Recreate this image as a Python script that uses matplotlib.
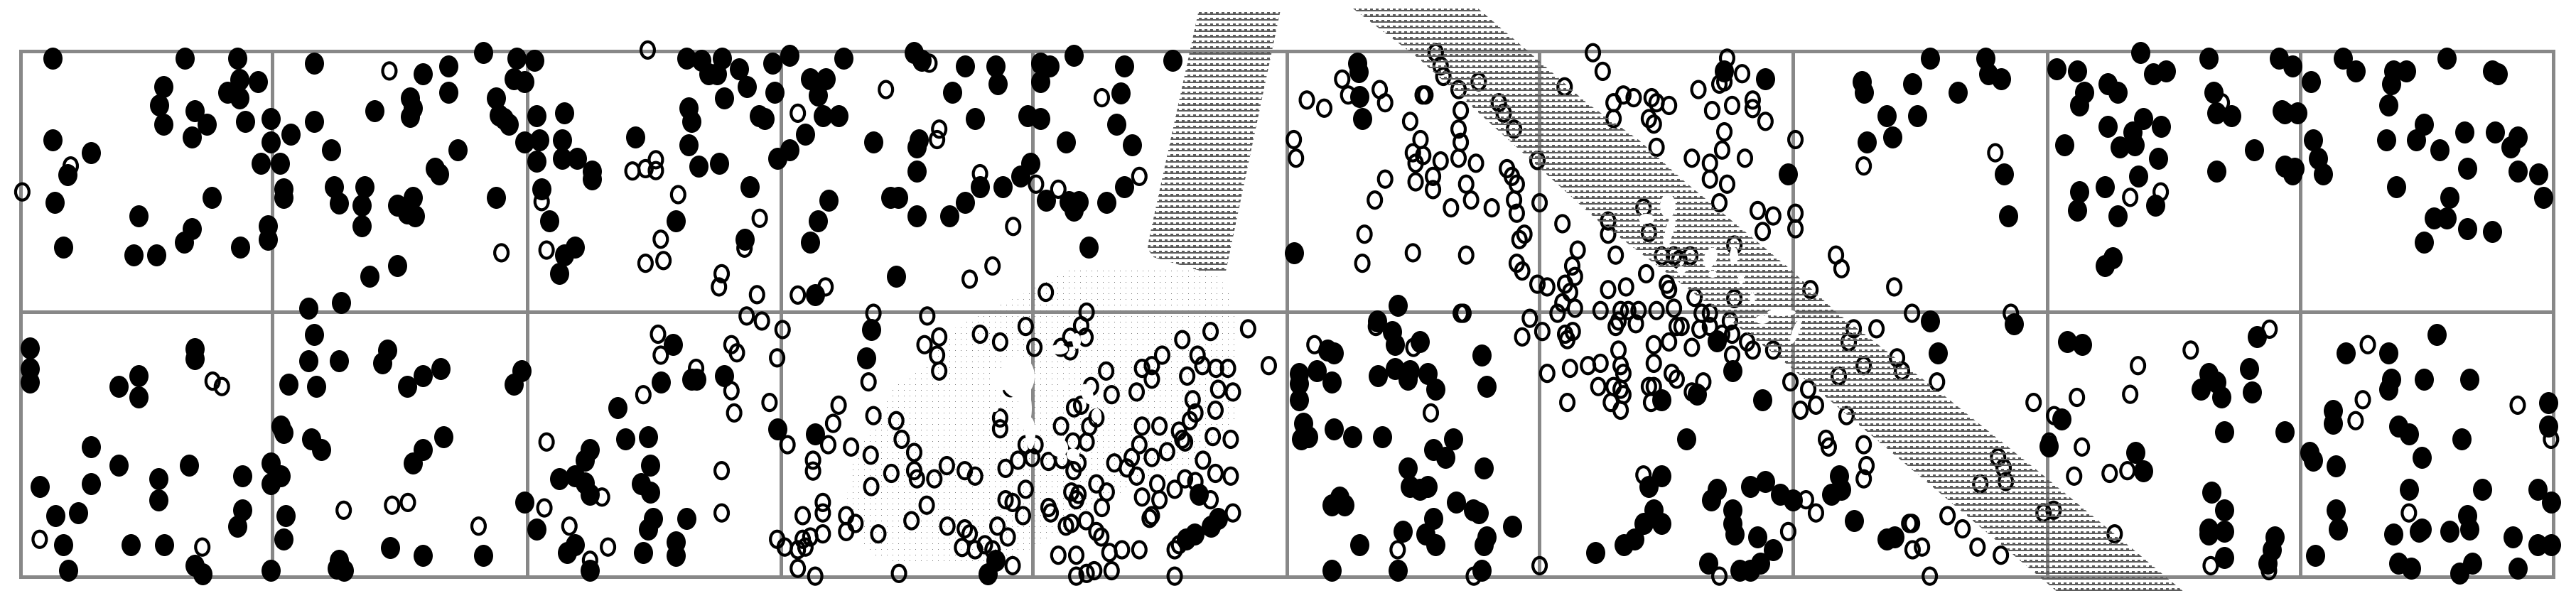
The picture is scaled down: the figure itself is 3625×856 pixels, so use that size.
import numpy as np
import matplotlib
matplotlib.use('Agg')
import matplotlib.pyplot as plt
from matplotlib.path import Path
from matplotlib.patches import Polygon, Ellipse
from matplotlib.markers import MarkerStyle
from matplotlib.transforms import Affine2D

plt.rcParams['lines.scale_dashes'] = False

GRID_X = [29, 383, 741.5, 1099, 1453, 1811, 2166, 2523, 2881, 3237, 3593]
GRID_Y = [71.5, 439, 812]

# Readings: left section
filled_a = [(97,150),(340,150),(437,150),(577,163),(889,136),(950,150),(983,156),(441,205),(474,210),(418,238),(441,252),(301,224),(293,272),(358,286),(380,320),(301,320),(353,353),(451,313),(498,306),(535,346),(577,313),(498,367),(97,360),(167,394),(124,450),(480,421),(515,421),(101,522),(116,638),(255,557),(390,509),(353,590),(339,624),(246,658),(288,658),(442,638),(493,583),(493,617),(521,488),(521,509),(609,387),(614,482),(623,524),(670,482),(665,530),(665,583),(759,509),(731,530),(749,550),(763,557),(800,435),(808,448),(842,387),(912,509),(777,190),(824,170),(824,238),(754,252),(759,279),(754,300),(688,286),(945,204),(964,211),(912,252),(917,297),(926,306),(936,320),(964,367),(992,360),(987,415),(987,299),(1038,292),(1033,360),(1033,408),(1061,408),(1089,442),(1089,462),(996,488),(1010,570),(1057,638),(1038,658),(1028,706),(679,713),(731,685),(627,781),(567,795),(1168,353),(1262,150),(1290,156),(1327,150),(1303,190),(1318,190),(1359,177),(1373,224),(1420,163),(1452,143),(1551,150),(1424,238),(1331,252),(1266,279),(1271,313),(1266,374),(1285,428),(1322,421),(1396,299),(1406,306),(1490,204),(1518,204),(1504,245),(1513,299),(1542,299),(1480,346),(1452,387),(1429,408),(1378,482),(1523,516),(1504,570),(1490,624),(1369,617),(1243,570),(1499,761),
(55,897),(55,950),(55,985),(358,900),(358,925),(255,970),(218,997),(255,1025),(577,862),(567,930),(623,930),(712,903),(703,937),(530,991),(581,997),(749,997),(777,970),(810,950),(959,957),(945,991),(1238,889),(1215,985),(1271,978),(1280,978),(1331,970),(1136,1052),(1429,1106),(1499,1120),(516,1100),(521,1116),(572,1133),(591,1160),(815,1126),(777,1160),(759,1194),(167,1153),(218,1200),(348,1200),(292,1235),(292,1290),(167,1248),(73,1255),(102,1330),(144,1323),(498,1194),(516,1228),(498,1248),(446,1228),(446,1316),(437,1357),(525,1330),(521,1391),(116,1405),(241,1405),(302,1405),(125,1472),(358,1459),(372,1480),(498,1472),(623,1445),(619,1465),(632,1472),(717,1412),(777,1432),(889,1432),(964,1296),(987,1364),(1085,1160),(1075,1187),(1028,1235),(1057,1228),(1075,1245),(1085,1275),(1150,1133),(1192,1126),(1196,1200),(1178,1248),(1196,1269),(1201,1337),(1192,1364),(1262,1337),(1057,1405),(1043,1425),(1182,1425),(1243,1398),(1243,1432),(1085,1472)]
open_a = [(1191,129),(716,183),(130,428),(41,495),(996,520),(922,652),(1005,645),(1247,502),(1163,441),(1187,435),(1206,412),(1206,440),(1215,617),(1187,679),(1220,672),(1397,563),(1369,640),(1467,292),(1327,706),(1322,740),(1392,760),(1467,761),(1518,740),(1373,815),(1401,828),(1439,850),(1210,862),(1215,916),(1345,889),(1355,910),(1429,923),(1280,950),(1345,1008),(1350,1065),(1183,1018),(1415,1038),(1542,1045),(1532,1092),(1448,1147),(1523,1147),(1565,1153),(1495,1187),(1495,1215),(1327,1214),(1005,1140),(391,983),(408,997),(1107,1282),(1001,1310),(632,1316),(721,1303),(750,1296),(880,1357),(1047,1357),(1118,1411),(1327,1323),(1513,1296),(1513,1323),(1476,1330),(1556,1330),(1556,1371),(1513,1377),(1429,1391),(1443,1411),(1476,1391),(1490,1385),(1481,1411),(1467,1418),(1467,1466),(1499,1486),(73,1391),(372,1411),(1085,1445)]

# Readings: middle section
filled_b = [(113,136),(127,156),(206,170),(262,170),(267,217),(183,238),(225,306),(345,163),(362,170),(345,211),(406,143),(499,170),(493,240),(588,156),(322,299),(345,306),(485,320),(392,367),(513,374),(38,367),(122,360),(118,380),(118,441),(327,421),(309,455),(234,482),(276,482),(69,509),(83,509),(206,523),(118,557),(178,557),(355,516),(397,521),(416,521),(406,543),(466,523),(499,482),(434,638),(80,713),(34,850),(25,923),(811,652),(928,163),(930,185),(932,250),(937,306),(262,1445),(248,1480),(636,1275),(672,1337),(658,1357),(628,1377),(613,1391),(1002,787),(964,828),(992,855),(997,889),(1043,882),(873,903),(885,910),(820,963),(853,957),(820,990),(881,985),(820,1031),(965,970),(997,950),(1025,957),(1020,978),(1057,963),(1071,1004),(1156,916),(1165,997),(829,1092),(824,1133),(838,1126),(885,1106),(918,1126),(974,1126),(1104,1133),(1067,1160),(1090,1180),(1020,1207),(1160,1207),(1025,1255),(1043,1262),(1057,1255),(881,1303),(895,1282),(904,1303),(1109,1296),(1141,1316),(1151,1323),(1067,1337),(1212,1357),(1011,1371),(1053,1377),(1071,1405),(1165,1385),(1160,1405),(932,1405),(881,1472),(1002,1472),(1156,1472),(1487,1031),(1553,1017),(1533,1133),(1487,1228),(1464,1255),(1473,1316),(1455,1350),(1487,1350),(1437,1391),(1418,1405),(1366,1425)]
open_b = [(141,163),(61,231),(159,333),(155,360),(234,448),(337,475),(378,488),(458,252),(527,455),(295,584),(257,686),(215,720),(355,754),(38,808),(137,815),(430,805),(318,842),(234,862),(271,882),(159,869),(132,889),(155,916),(159,957),(29,985),(334,896),(658,855),(727,848),(606,876),(765,943),(569,916),(634,916),(643,943),(668,950),(690,950),(532,950),(550,943),(550,978),(466,957),(615,970),(438,997),(476,1018),(522,1011),(672,1004),(699,1011),(625,1031),(667,1058),(630,1065),(620,1085),(600,1112),(606,1133),(611,1140),(662,1126),(695,1133),(564,1099),(532,1099),(527,1147),(578,1165),(550,1180),(513,1180),(481,1194),(504,1207),(522,1228),(644,1187),(667,1221),(695,1228),(611,1235),(630,1242),(592,1262),(560,1248),(532,1282),(564,1289),(658,1289),(699,1323),(550,1330),(546,1337),(38,1072),(80,1085),(90,1133),(113,1167),(33,1174),(113,1214),(118,1235),(71,1221),(150,1235),(173,1201),(206,1214),(225,1228),(34,1255),(136,1303),(108,1343),(174,1357),(206,1364),(215,1377),(47,1377),(5,1350),(266,1357),(285,1385),(201,1412),(225,1418),(243,1405),(257,1418),(294,1459),(85,1479),(281,1208),(304,1187),(318,1147),(336,1147),(318,1262),(281,1289),(294,1296),(313,1330),(407,1052),(420,1045),(383,1099),(271,1078),(271,1106),(406,1214),(415,1194),(448,1248),(467,1269),(402,1269),(415,1275),(411,1289),(458,1309),(360,1309),(364,1323),(402,1350),(392,1357),(429,1343),(448,1371),(457,1385),(472,1425),(495,1418),(527,1418),(378,1432),(411,1432),(411,1486),(430,1479),(444,1472),(476,1472),(592,1418),(600,1405),(592,1486),(448,1078),(383,896),(400,870),(420,840),(428,870),(400,905),(290,1000),(435,1100),(405,1140),(430,1140),(330,1180),(360,1190),(385,1185),
(1072,136),(1081,170),(1086,197),(1151,211),(1114,231),(1309,224),(1361,136),(1379,184),(1188,265),(1197,292),(1216,333),(1118,285),(1114,333),(1118,367),(1114,408),(1146,421),(1044,360),(1030,394),(1049,401),(1081,415),(1035,421),(1067,455),(1035,469),(1067,489),(1128,475),(1137,516),(1100,536),(1175,536),(1203,435),(1212,455),(1221,475),(1216,516),(1221,550),(1259,414),(1263,523),(960,516),(979,462),(1025,313),(969,231),(979,265),(1053,245),(1048,245),(900,204),(911,245),(835,258),(867,279),(811,360),(815,408),(941,604),(937,679),(1030,652),(1128,658),(1235,604),(1226,618),(1221,679),(1231,699),(1305,577),(1333,645),(1323,686),(1328,713),(1389,570),(1389,604),(1403,658),(1389,747),(1259,733),(1277,740),(1310,733),(1319,754),(1305,781),(1296,808),(1328,795),(1375,801),(1422,740),(1459,706),(1497,733),(1501,747),(1478,801),(1412,801),(1426,801),(1445,801),(1408,828),(1403,842),(1440,835),(1510,795),(1515,842),(1524,842),(1548,767),(1561,808),(1557,849),(1473,889),(1501,882),(1543,896),(1408,903),(1412,943),(1473,937),(1417,963),(1352,943),(1375,937),(1319,950),(1277,963),(1371,997),(1399,997),(1412,1004),(1417,1018),(1394,1038),(1464,997),(1473,997),(1468,1038),(1412,1058),(1314,1038),(1506,963),(1515,978),(1564,985),(1543,1011),(1245,821),(1268,855),(1231,869),(1324,855),(1314,876),(1310,862),(1123,808),(1118,808),(849,889),(1031,896),(962,842),(1063,1065),(1454,1225),(1002,1418),(1142,1486),(1263,1459),(1478,380),(1543,408),(1399,265),(1417,245),(1436,252),(1469,252),(1478,265),(1501,272),(1399,306),(1464,306),(1473,320),(1555,231),(1454,536),(1464,600),(1510,660),(1520,670),(1540,660),(1488,660)]

# Readings: right section
filled_c = [(33,183),(108,204),(149,448),(281,211),(285,238),(372,217),(404,150),(504,150),(509,190),(532,204),(454,238),(326,299),(381,299),(336,353),(290,367),(537,448),(545,557),(632,177),(669,183),(682,238),(673,272),(724,217),(742,238),(783,136),(807,190),(829,183),(906,150),(1033,150),(1057,170),(915,238),(920,292),(947,299),(1038,286),(1043,292),(1066,292),(724,326),(788,306),(769,340),(820,326),(646,374),(746,380),(773,374),(815,408),(779,455),(988,387),(920,442),(1043,428),(1061,435),(1057,448),(673,495),(669,543),(719,482),(742,557),(810,530),(733,665),(719,686),(1090,211),(1094,360),(1103,408),(1112,448),(1148,150),(1171,183),(1239,183),(1262,183),(1235,217),(1230,272),(1335,150),(1417,183),(1427,190),(1294,320),(1226,360),(1280,360),(1322,387),(1367,340),(1422,340),(1463,353),(1450,380),(1372,435),(1463,442),(1500,448),(1244,482),(1340,509),(1509,509),(1312,563),(1335,563),(1372,590),(1417,597),(1294,624),
(404,828),(555,835),(418,910),(48,957),(103,1031),(651,882),(679,889),(993,869),(906,963),(979,950),(920,985),(892,1004),(929,1025),(984,1011),(641,1080),(934,1113),(1043,1113),(774,1167),(788,1214),(618,1150),(1317,862),(1153,910),(1230,910),(1235,978),(1230,1004),(1294,978),(1376,978),(1130,1058),(1130,1092),(1248,1099),(1267,1120),(1362,1133),(1518,1038),(1518,1099),(1088,1167),(1094,1187),(1135,1201),(1290,1180),(1267,1262),(1399,1262),(1499,1262),(1523,1296),(911,1269),(934,1316),(1135,1316),(1372,1330),(1139,1364),(1290,1364),(1285,1371),(1239,1377),(1340,1371),(1376,1364),(1454,1385),(1499,1405),(1523,1405),(906,1377),(934,1371),(906,1364),(1025,1385),(1020,1418),(1012,1452),(934,1439),(1098,1432),(1248,1452),(1271,1466),(1381,1452),(1358,1479),(1463,1466),(20,1262),(10,1290),(80,1255),(108,1242),(135,1275),(158,1289),(48,1316),(48,1350),(52,1378),(94,1385),(121,1418),(99,1452),(80,1472),(62,1472),(5,1452),(240,1228),(244,1262),(226,1275),(267,1343),(327,1391),(341,1385),(20,880)]
open_c = [(39,150),(66,190),(34,211),(25,217),(85,258),(85,280),(48,272),(12,285),(108,313),(34,340),(30,387),(71,408),(8,421),(8,462),(39,475),(25,523),(94,543),(122,557),(103,597),(162,360),(162,550),(162,590),(285,428),(522,394),(52,632),(235,658),(245,693),(340,740),(189,747),(52,770),(8,808),(8,842),(44,828),(30,862),(48,862),(75,882),(85,903),(122,903),(48,916),(372,808),(550,808),(267,848),(308,848),(258,882),(345,923),(354,957),(285,943),(240,970),(417,985),(153,985),(185,1004),(199,1045),(171,1058),(254,1072),(217,1133),(222,1153),(285,1147),(290,1201),(285,1235),(181,1289),(199,1323),(149,1371),(25,1486),(372,1350),(367,1350),(436,1330),(463,1364),(373,1418),(390,1411),(490,1411),(532,1432),(404,1486),(591,1038),(628,1072),(669,1025),(619,1140),(678,1153),(664,1228),(728,1221),(760,1214),(527,1180),(537,1207),(541,1242),(495,1248),(627,1316),(609,1323),(737,1377),(910,1459),(765,1017),(779,943),(874,903),(1016,849),(765,509),(820,495),(930,265),(1193,889),(1184,1031),(1171,1085),(1463,1045),(1523,1133),(1267,1323),(1015,1472)]

DOT_REGION = [(1692,377),(1502,380),(1488,388),(1442,413),(1408,429),(1373,445),(1344,462),(1330,483),(1293,522),(1255,547),(1224,607),(1195,657),(1192,707),(1201,740),(1218,770),(1238,787),(1298,797),(1402,797),(1465,765),(1540,715),(1600,680),(1665,665),(1738,590),(1738,445),(1729,412),(1715,388)]
BAND_ONE = [(1687,14),(1802,14),(1725,382),(1692,382),(1657,372),(1623,362),(1615,350),(1617,336)]
BAND_TWO = [(1904,12),(2080,12),(2149,71),(2233,145),(2306,197),(2370,255),(2517,377),(2587,442),(2736,557),(2869,664),(2994,767),(3074,834),(2896,834),(2503,503),(2250,312),(1996,82)]

# soft white washes: centre x, centre y, width, height, angle
WASH_ONE = [(1432,530,48,60,0),(1442,575,20,55,0),(1408,535,25,30,0),(1450,610,14,45,0),(1490,492,26,14,0),(1515,480,12,22,0),(1530,555,16,30,-20),(1543,585,14,20,0),(1490,630,26,26,0),(1510,640,18,18,0),(1497,540,5,5,0),(1400,575,10,10,0)]
WASH_TWO = [(2347,290,22,34,0),(2317,308,22,14,0),(2350,323,12,40,15),(2345,340,10,18,0),(2407,363,18,30,20),(2440,360,12,24,0),(2450,393,9,14,0),(2410,386,12,10,0),(2366,380,14,10,0),(2507,440,40,10,0),(2527,467,10,36,20),(2480,450,20,12,0),(2466,420,8,16,0)]

def to_px(pts, x0, sx):
    a = np.array(pts, dtype=float)
    return x0 + a[:, 0] / sx, a[:, 1] / 1.832

fx = np.concatenate([to_px(filled_a, 0, 1.3067)[0], to_px(filled_b, 1200, 1.3067)[0], to_px(filled_c, 2400, 1.28)[0]])
fy = np.concatenate([to_px(filled_a, 0, 1.3067)[1], to_px(filled_b, 1200, 1.3067)[1], to_px(filled_c, 2400, 1.28)[1]])
ox = np.concatenate([to_px(open_a, 0, 1.3067)[0], to_px(open_b, 1200, 1.3067)[0], to_px(open_c, 2400, 1.28)[0]])
oy = np.concatenate([to_px(open_a, 0, 1.3067)[1], to_px(open_b, 1200, 1.3067)[1], to_px(open_c, 2400, 1.28)[1]])

fig = plt.figure(figsize=(36.25, 8.56), dpi=100, facecolor='white')
ax = fig.add_axes([0, 0, 1, 1])
ax.set_xlim(0, 3625)
ax.set_ylim(856, 0)
ax.axis('off')

px = 0.72
ax.vlines(GRID_X, GRID_Y[0], GRID_Y[-1], color='#888888', lw=5 * px, zorder=1, capstyle='projecting')
ax.hlines(GRID_Y, GRID_X[0], GRID_X[-1], color='#888888', lw=5 * px, zorder=1, capstyle='projecting')

circle = Path.unit_circle()
filled_marker = MarkerStyle(circle.transformed(Affine2D().scale(0.87, 1.0)))
open_marker = MarkerStyle(circle.transformed(Affine2D().scale(0.82, 1.0)))
ax.scatter(ox, oy, s=(23 * px) ** 2, marker=open_marker, facecolors='none', edgecolors='black', linewidths=4.2 * px, zorder=2)
ax.scatter(fx, fy, s=(31 * px) ** 2, marker=filled_marker, c='black', linewidths=0, zorder=3)

def clipped_rows(region, y0, zorder, colour, lw, dash, dy=0.0):
    poly = Polygon(region, transform=ax.transData, fill=False, edgecolor='none')
    ax.add_patch(poly)
    ys = np.arange(y0, 860, 8.0) + dy
    coll = ax.hlines(ys, min(p[0] for p in region) - 8, max(p[0] for p in region) + 8,
                     colors=colour, lw=lw, linestyles=dash, zorder=zorder, antialiased=False)
    coll.set_capstyle('butt')
    coll.set_clip_path(poly)

# fine dot texture
clipped_rows(DOT_REGION, 5, 1.5, '#777777', 1 * px, (0, (1 * px, 7 * px)))

def band(region, y0):
    clipped_rows(region, y0, 4, '#5c5c5c', 2 * px, 'solid', dy=1)
    clipped_rows(region, y0, 4, '#5c5c5c', 1.5 * px, (0, (3.6 * px, 4.4 * px)), dy=-1)

band(BAND_ONE, 3)
band(BAND_TWO, 6)

for cx, cy, w, h, ang in WASH_ONE + WASH_TWO:
    ax.add_patch(Ellipse((cx, cy), w, h, angle=ang, facecolor='white', edgecolor='none', zorder=5))

fig.savefig('out.png', dpi=100, facecolor='white')
